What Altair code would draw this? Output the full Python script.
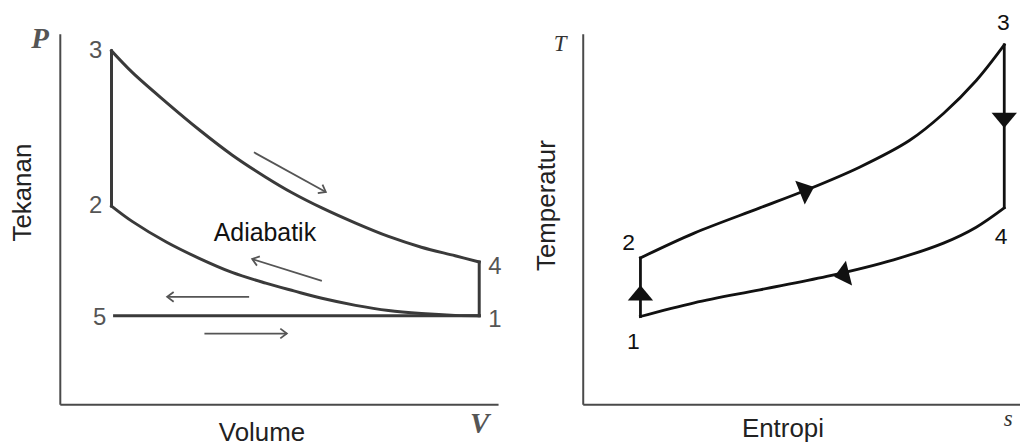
import math
import altair as alt
import pandas as pd

# ---------------- P-V diagram (left) ----------------
pv_upper_V = [1.18, 1.66, 2.43, 3.18, 3.93, 4.70, 5.30, 5.98, 6.75, 7.50, 8.25, 9.02, 9.57]
pv_upper_P = [9.54, 8.95, 8.15, 7.41, 6.73, 6.13, 5.71, 5.30, 4.89, 4.53, 4.24, 4.01, 3.84]
pv_lower_V = [1.18, 1.66, 2.43, 3.18, 3.93, 4.70, 5.34, 5.98, 6.75, 7.50, 8.25, 9.02, 9.57]
pv_lower_P = [5.35, 4.93, 4.38, 3.94, 3.56, 3.27, 3.06, 2.86, 2.67, 2.53, 2.45, 2.40, 2.39]
pv_point_names = ["1", "2", "3", "4", "5"]
pv_point_V = [9.57, 1.18, 1.18, 9.57, 1.25]
pv_point_P = [2.39, 5.35, 9.54, 3.84, 2.39]
pv_straight = [("2", "3"), ("4", "1"), ("5", "1")]

pv_label_text = ["3", "2", "4", "1", "5"]
pv_label_V = [0.82, 0.82, 9.93, 9.93, 0.91]
pv_label_P = [9.54, 5.35, 3.71, 2.28, 2.34]

pv_arrow_V1 = [4.43, 5.98, 4.32, 3.30]
pv_arrow_P1 = [6.80, 3.33, 2.90, 1.91]
pv_arrow_V2 = [6.07, 4.39, 2.45, 5.18]
pv_arrow_P2 = [5.73, 3.92, 2.90, 1.91]

pv_symbols = ["P", "V"]
pv_symbol_V = [-0.45, 9.58]
pv_symbol_P = [9.87, -0.52]

pv_note = ["Adiabatik"]
pv_note_V = [4.68]
pv_note_P = [4.62]

# ---------------- T-s diagram (right) ----------------
ts_upper_s = [1.32, 2.55, 4.05, 5.13, 6.33, 7.47, 8.25, 9.00, 9.64]
ts_upper_T = [3.95, 4.62, 5.30, 5.79, 6.40, 7.12, 7.85, 8.74, 9.70]
ts_lower_s = [1.32, 2.55, 4.05, 5.58, 7.11, 8.25, 9.00, 9.64]
ts_lower_T = [2.37, 2.74, 3.09, 3.45, 3.90, 4.35, 4.78, 5.30]
ts_point_names = ["1", "2", "3", "4"]
ts_point_s = [1.32, 1.32, 9.64, 9.64]
ts_point_T = [2.37, 3.95, 9.70, 5.32]
ts_straight = [("1", "2"), ("3", "4")]

ts_label_text = ["3", "2", "4", "1"]
ts_label_s = [9.62, 1.05, 9.57, 1.16]
ts_label_T = [10.30, 4.35, 4.52, 1.69]

ts_arrow_s = [1.32, 5.13, 9.64, 5.92]
ts_arrow_T = [3.01, 5.79, 7.66, 3.49]
ts_arrow_dir = [270, 338, 90, 166]

ts_symbols = ["T", "s"]
ts_symbol_s = [-0.52, 9.73]
ts_symbol_T = [9.73, -0.40]

# ---------------- layout / style ----------------
W, H = 440, 372
DOM = [0, 10]
PX_X = W / (DOM[1] - DOM[0])
PX_Y = H / (DOM[1] - DOM[0])
SANS = "Liberation Sans"
SERIF = "Liberation Serif"
CURVE = "catmull-rom"


def segments(upper_x, upper_y, lower_x, lower_y, names, px, py, straight):
    rows = []
    for i, (a, b) in enumerate(zip(upper_x, upper_y)):
        rows.append({"seg": "upper", "i": i, "x": a, "y": b})
    for i, (a, b) in enumerate(zip(lower_x, lower_y)):
        rows.append({"seg": "lower", "i": i, "x": a, "y": b})
    lookup = {n: (x, y) for n, x, y in zip(names, px, py)}
    for a, b in straight:
        rows.append({"seg": a + b, "i": 0, "x": lookup[a][0], "y": lookup[a][1]})
        rows.append({"seg": a + b, "i": 1, "x": lookup[b][0], "y": lookup[b][1]})
    return pd.DataFrame(rows)


def xs(title, tx, ty):
    return alt.X("x:Q", scale=alt.Scale(domain=DOM, nice=False, zero=False),
                 axis=alt.Axis(title=title, titleX=tx, titleY=ty, titleBaseline="alphabetic",
                               titleAnchor="start", titleAlign="center"))


def ys(title, tx, ty):
    return alt.Y("y:Q", scale=alt.Scale(domain=DOM, nice=False, zero=False),
                 axis=alt.Axis(title=title, titleX=tx, titleY=ty, titleBaseline="middle",
                               titleAlign="center", titleAngle=270))


# ---- left panel ----
pv_lines = segments(pv_upper_V, pv_upper_P, pv_lower_V, pv_lower_P,
                    pv_point_names, pv_point_V, pv_point_P, pv_straight)
LC = "#3a3a3a"
left_cycle = alt.Chart(pv_lines).mark_line(
    color=LC, strokeWidth=3, interpolate=CURVE, strokeCap="square", clip=False
).encode(
    x=xs("Volume", 202.5, 36),
    y=ys("Tekanan", -37.5, 159),
    detail="seg:N", order="i:Q",
)

arrow_rows = []
head_rows = []
for k, (v1, p1, v2, p2) in enumerate(zip(pv_arrow_V1, pv_arrow_P1, pv_arrow_V2, pv_arrow_P2)):
    arrow_rows.append({"a": k, "i": 0, "x": v1, "y": p1})
    arrow_rows.append({"a": k, "i": 1, "x": v2, "y": p2})
    ang = math.degrees(math.atan2(-(p2 - p1) * PX_Y, (v2 - v1) * PX_X)) % 360
    head_rows.append({"x": v2, "y": p2, "ang": ang})
AC = "#555555"
left_shafts = alt.Chart(pd.DataFrame(arrow_rows)).mark_line(color=AC, strokeWidth=1.8).encode(
    x="x:Q", y="y:Q", detail="a:N", order="i:Q")
left_heads = alt.Chart(pd.DataFrame(head_rows)).mark_point(
    shape="M -1 -0.75 L 0 0 L -1 0.75", filled=False, stroke=AC, strokeWidth=1.8, size=170, opacity=1
).encode(x="x:Q", y="y:Q", angle=alt.Angle("ang:Q", scale=None))

left_labels = alt.Chart(pd.DataFrame({"x": pv_label_V, "y": pv_label_P, "t": pv_label_text})).mark_text(
    font=SANS, fontSize=24, color="#555555", baseline="middle", align="center"
).encode(x="x:Q", y="y:Q", text="t:N")
left_symbols = alt.Chart(pd.DataFrame({"x": pv_symbol_V, "y": pv_symbol_P, "t": pv_symbols})).mark_text(
    font=SERIF, fontSize=29, fontStyle="italic", fontWeight="bold", color="#555555",
    baseline="middle", align="center"
).encode(x="x:Q", y="y:Q", text="t:N")
left_note = alt.Chart(pd.DataFrame({"x": pv_note_V, "y": pv_note_P, "t": pv_note})).mark_text(
    font=SANS, fontSize=25, color="#111111", baseline="middle", align="center"
).encode(x="x:Q", y="y:Q", text="t:N")

left = alt.layer(left_cycle, left_shafts, left_heads, left_labels, left_symbols, left_note).properties(
    width=W, height=H)

# ---- right panel ----
ts_lines = segments(ts_upper_s, ts_upper_T, ts_lower_s, ts_lower_T,
                    ts_point_names, ts_point_s, ts_point_T, ts_straight)
RC = "#111111"
right_cycle = alt.Chart(ts_lines).mark_line(
    color=RC, strokeWidth=2.8, interpolate=CURVE, strokeCap="square", clip=False
).encode(
    x=xs("Entropi", 200.5, 32),
    y=ys("Temperatur", -36.5, 172),
    detail="seg:N", order="i:Q",
)
right_heads = alt.Chart(pd.DataFrame({"x": ts_arrow_s, "y": ts_arrow_T, "ang": ts_arrow_dir})).mark_point(
    shape="M 0.6 0 L -0.6 -1 L -0.6 1 Z", filled=True, color=RC, size=650, opacity=1, strokeWidth=0
).encode(x="x:Q", y="y:Q", angle=alt.Angle("ang:Q", scale=None))
right_labels = alt.Chart(pd.DataFrame({"x": ts_label_s, "y": ts_label_T, "t": ts_label_text})).mark_text(
    font=SANS, fontSize=23, color="#111111", baseline="middle", align="center"
).encode(x="x:Q", y="y:Q", text="t:N")
right_symbols = alt.Chart(pd.DataFrame({"x": ts_symbol_s, "y": ts_symbol_T, "t": ts_symbols})).mark_text(
    font=SERIF, fontSize=23, fontStyle="italic", color="#333333", baseline="middle", align="center"
).encode(x="x:Q", y="y:Q", text="t:N")

right = alt.layer(right_cycle, right_heads, right_labels, right_symbols).properties(width=W - 1, height=H)

chart = alt.hconcat(left, right, spacing=85, bounds="flush").properties(
    padding={"left": 1, "top": 2, "right": 0, "bottom": 0}
).configure_view(stroke=None).configure_axis(
    grid=False, ticks=False, labels=False, domainColor="#4a4a4a", domainWidth=2,
    titleFont=SANS, titleFontSize=26, titleFontWeight="normal", titleColor="#222222"
)

chart.save("out.html", embed_options={"renderer": "svg", "actions": False})
